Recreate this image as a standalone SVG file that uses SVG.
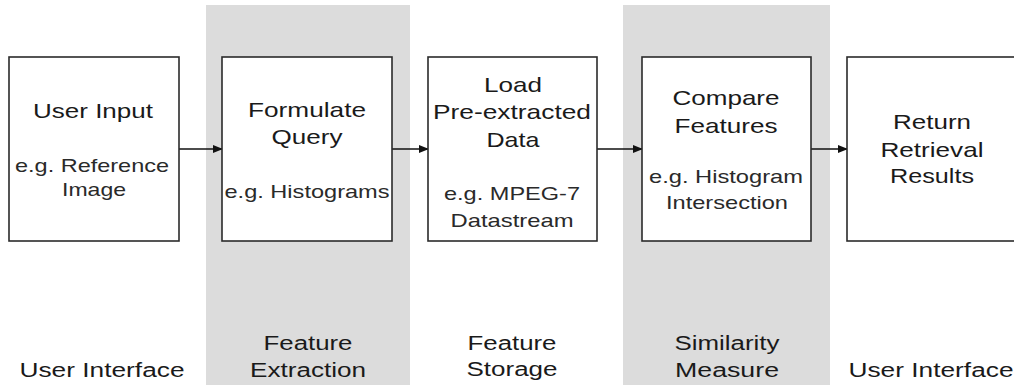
<svg xmlns="http://www.w3.org/2000/svg" width="1014" height="385" viewBox="0 0 1014 385">
<style>
  text { font-family: "Liberation Sans", Arial, sans-serif; text-anchor: middle; fill: #1a1a1a; }
  .t { font-size: 21px; }
  .n { font-size: 19px; fill: #2a2a2a; }
  .l { font-size: 20px; }
  .box { fill: #ffffff; stroke: #2b2b2b; stroke-width: 1.6; }
  .band { fill: #dcdcdc; }
  .conn { stroke: #111111; stroke-width: 1.6; fill: none; marker-end: url(#ah); }
</style>
<defs>
  <marker id="ah" markerWidth="10" markerHeight="8" refX="9" refY="4" orient="auto" markerUnits="userSpaceOnUse">
    <path d="M0,0 L10,4 L0,8 Z" fill="#111111"/>
  </marker>
</defs>
<rect width="1014" height="385" fill="#ffffff"/>
<g id="bands">
  <rect class="band" x="206" y="5" width="204" height="380"/>
  <rect class="band" x="623" y="5" width="207" height="380"/>
</g>
<g id="connectors">
  <line class="conn" x1="179" y1="149" x2="222" y2="149"/>
  <line class="conn" x1="392" y1="149" x2="428" y2="149"/>
  <line class="conn" x1="597" y1="149" x2="642" y2="149"/>
  <line class="conn" x1="811" y1="149" x2="847" y2="149"/>
</g>
<g id="node-user-input">
  <rect class="box" x="9" y="57" width="170" height="184"/>
  <text class="t" x="93" y="118" textLength="120" lengthAdjust="spacingAndGlyphs">User Input</text>
  <text class="n" x="92" y="172" textLength="154" lengthAdjust="spacingAndGlyphs">e.g. Reference</text>
  <text class="n" x="94" y="196" textLength="64" lengthAdjust="spacingAndGlyphs">Image</text>
</g>
<g id="node-formulate-query">
  <rect class="box" x="222" y="57" width="170" height="184"/>
  <text class="t" x="307" y="117" textLength="118" lengthAdjust="spacingAndGlyphs">Formulate</text>
  <text class="t" x="307" y="144" textLength="71" lengthAdjust="spacingAndGlyphs">Query</text>
  <text class="n" x="307" y="198" textLength="165" lengthAdjust="spacingAndGlyphs">e.g. Histograms</text>
</g>
<g id="node-load-data">
  <rect class="box" x="428" y="57" width="169" height="184"/>
  <text class="t" x="513" y="92" textLength="58" lengthAdjust="spacingAndGlyphs">Load</text>
  <text class="t" x="512" y="119" textLength="158" lengthAdjust="spacingAndGlyphs">Pre-extracted</text>
  <text class="t" x="513" y="147" textLength="53" lengthAdjust="spacingAndGlyphs">Data</text>
  <text class="n" x="512" y="200" textLength="136" lengthAdjust="spacingAndGlyphs">e.g. MPEG-7</text>
  <text class="n" x="512" y="227" textLength="123" lengthAdjust="spacingAndGlyphs">Datastream</text>
</g>
<g id="node-compare-features">
  <rect class="box" x="642" y="57" width="169" height="184"/>
  <text class="t" x="726" y="105" textLength="107" lengthAdjust="spacingAndGlyphs">Compare</text>
  <text class="t" x="726" y="133" textLength="103" lengthAdjust="spacingAndGlyphs">Features</text>
  <text class="n" x="726" y="183" textLength="154" lengthAdjust="spacingAndGlyphs">e.g. Histogram</text>
  <text class="n" x="727" y="209" textLength="122" lengthAdjust="spacingAndGlyphs">Intersection</text>
</g>
<g id="node-return-results">
  <rect class="box" x="847" y="57" width="172" height="184"/>
  <text class="t" x="932" y="129" textLength="78" lengthAdjust="spacingAndGlyphs">Return</text>
  <text class="t" x="932" y="157" textLength="103" lengthAdjust="spacingAndGlyphs">Retrieval</text>
  <text class="t" x="932" y="183" textLength="84" lengthAdjust="spacingAndGlyphs">Results</text>
</g>
<g id="labels">
  <text class="l" x="102" y="377" textLength="165" lengthAdjust="spacingAndGlyphs">User Interface</text>
  <text class="l" x="308" y="350" textLength="89" lengthAdjust="spacingAndGlyphs">Feature</text>
  <text class="l" x="308" y="377" textLength="116" lengthAdjust="spacingAndGlyphs">Extraction</text>
  <text class="l" x="512" y="350" textLength="89" lengthAdjust="spacingAndGlyphs">Feature</text>
  <text class="l" x="512" y="376" textLength="91" lengthAdjust="spacingAndGlyphs">Storage</text>
  <text class="l" x="727" y="350" textLength="105" lengthAdjust="spacingAndGlyphs">Similarity</text>
  <text class="l" x="727" y="377" textLength="104" lengthAdjust="spacingAndGlyphs">Measure</text>
  <text class="l" x="931" y="377" textLength="165" lengthAdjust="spacingAndGlyphs">User Interface</text>
</g>
</svg>
